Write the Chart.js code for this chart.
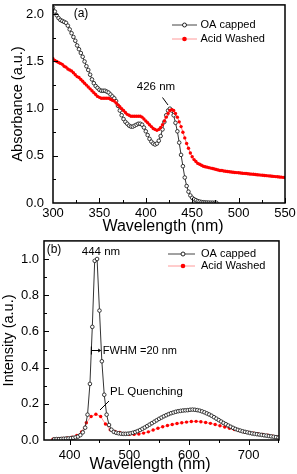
<!DOCTYPE html>
<html><head><meta charset="utf-8">
<script src="https://cdn.jsdelivr.net/npm/chart.js@4.4.1/dist/chart.umd.min.js"></script>
<style>
html,body{margin:0;padding:0;background:#fff;width:297px;height:474px;overflow:hidden}
#wa{position:absolute;left:0;top:0;width:297px;height:236px}
#wb{position:absolute;left:0;top:236px;width:297px;height:238px}
canvas{display:block}
</style></head><body>
<div id="wa"><canvas id="ca" width="297" height="236"></canvas></div>
<div id="wb"><canvas id="cb" width="297" height="238"></canvas></div>
<script>
// ---------- (a) Absorbance ----------
const absWavelength = [
300,302,304,306,308,310,312,314,316,318,
320,322,324,326,328,330,332,334,336,338,
340,342,344,346,348,350,352,354,356,358,
360,362,364,366,368,370,372,374,376,378,
380,382,384,386,388,390,392,394,396,398,
400,402,404,406,408,410,412,414,416,418,
420,422,424,426,428,430,432,434,436,438,
440,442,444,446,448,450,452,454,456,458,
460,462,464,466,468,470,472,474,476,478,
480,482,484,486,488,490,492,494,496,498,
500,502,504,506,508,510,512,514,516,518,
520,522,524,526,528,530,532,534,536,538,
540,542,544,546,548,550];
const absOA = [
2.07,2.03,1.99,1.96,1.94,1.93,1.92,1.91,1.88,1.84,
1.80,1.76,1.72,1.67,1.63,1.59,1.55,1.50,1.45,1.41,
1.36,1.31,1.27,1.24,1.22,1.20,1.19,1.19,1.19,1.18,
1.17,1.15,1.13,1.11,1.08,1.03,0.98,0.93,0.89,0.86,
0.84,0.82,0.81,0.81,0.82,0.83,0.84,0.84,0.83,0.80,
0.76,0.72,0.68,0.65,0.63,0.62,0.63,0.66,0.71,0.78,
0.86,0.93,0.98,1.00,0.98,0.93,0.85,0.76,0.64,0.51,
0.39,0.27,0.18,0.12,0.08,0.055,0.04,0.03,0.02,0.015,
0.01,0.008,0.006,0.005,0.004,0.003,0.003,0.002,0.002];
const absAcid = [
1.53,1.51,1.50,1.49,1.48,1.47,1.45,1.44,1.42,1.41,
1.40,1.38,1.36,1.34,1.33,1.31,1.29,1.27,1.25,1.23,
1.21,1.19,1.17,1.15,1.13,1.12,1.11,1.11,1.11,1.11,
1.11,1.10,1.09,1.08,1.06,1.04,1.02,1.00,0.98,0.96,
0.94,0.93,0.92,0.92,0.92,0.92,0.92,0.92,0.91,0.89,
0.87,0.85,0.83,0.81,0.79,0.78,0.77,0.78,0.80,0.83,
0.87,0.91,0.95,0.98,0.99,0.98,0.95,0.91,0.86,0.81,
0.75,0.69,0.63,0.58,0.53,0.49,0.46,0.44,0.42,0.41,
0.40,0.39,0.385,0.38,0.375,0.37,0.365,0.36,0.355,0.35,
0.345,0.345,0.34,0.337,0.334,0.331,0.328,0.326,0.324,0.322,
0.32,0.318,0.316,0.314,0.312,0.31,0.308,0.306,0.304,0.302,
0.30,0.298,0.296,0.294,0.292,0.29,0.288,0.286,0.284,0.282,
0.28,0.278,0.276,0.274,0.272,0.27];
const absXTicks = [300, 350, 400, 450, 500, 550];
const absYTicks = [0, 0.5, 1.0, 1.5, 2.0];

// ---------- (b) PL ----------
const plWavelengthOA = [
374,378,382,386,390,394,398,402,406,410,
414,418,422,426,430,434,438,442,446,450,
454,458,462,466,470,474,478,482,486,490,
494,498,502,506,510,514,518,522,526,530,
534,538,542,546,550,554,558,562,566,570,
574,578,582,586,590,594,598,602,606,610,
614,618,622,626,630,634,638,642,646,650,
654,658,662,666,670,674,678,682,686,690,
694,698,702,706,710,714,718,722,726,730,
734,738,742,746,750];
const plOA = [
0.004,0.005,0.005,0.006,0.007,0.008,0.009,0.010,0.012,0.015,
0.019,0.027,0.042,0.068,0.14,0.31,0.625,0.99,1.0,0.715,
0.435,0.25,0.14,0.083,0.057,0.045,0.04,0.037,0.035,0.034,
0.034,0.035,0.037,0.040,0.044,0.049,0.055,0.062,0.069,0.077,
0.085,0.093,0.101,0.109,0.117,0.124,0.131,0.137,0.143,0.148,
0.152,0.156,0.159,0.161,0.163,0.164,0.165,0.167,0.168,0.167,
0.165,0.162,0.158,0.153,0.147,0.141,0.134,0.126,0.118,0.110,
0.102,0.094,0.087,0.080,0.073,0.067,0.061,0.056,0.052,0.048,
0.045,0.042,0.039,0.036,0.034,0.032,0.030,0.028,0.026,0.024,
0.022,0.020,0.018,0.016,0.014];
const plWavelengthAcid = [
372,380,388,396,404,412,420,428,436,444,
452,460,468,476,484,492,500,508,516,524,
532,540,548,556,564,572,580,588,596,604,
612,620,628,636,644,652,660,668,676,684,
692,700,708,716,724,732,740,748];
const plAcid = [
0.005,0.007,0.009,0.012,0.016,0.025,0.045,0.095,0.13,0.142,
0.13,0.088,0.056,0.047,0.042,0.036,0.032,0.031,0.033,0.038,
0.045,0.055,0.065,0.073,0.080,0.086,0.091,0.095,0.099,0.102,
0.103,0.101,0.097,0.092,0.086,0.079,0.072,0.065,0.058,0.052,
0.046,0.042,0.038,0.034,0.030,0.026,0.021,0.016];
const plXTicks = [400, 500, 600, 700];
const plYTicks = [0, 0.2, 0.4, 0.6, 0.8, 1.0];

const seriesNames = ['OA capped', 'Acid Washed'];
const xTitle = 'Wavelength (nm)';

const FONT = "'Liberation Sans', Arial, Helvetica, sans-serif";
const zip = (xs, ys) => ys.map((v, i) => ({x: xs[i], y: v}));

function decor(d) {
  return {
    id: 'decor',
    afterDraw(chart) {
      const {ctx, chartArea: a, scales: {x, y}} = chart;
      ctx.save();
      ctx.strokeStyle = '#000';
      ctx.lineWidth = 1.5;
      ctx.strokeRect(a.left, a.top, a.right - a.left, a.bottom - a.top);
      ctx.lineWidth = 1;
      ctx.beginPath();
      const isMaj = (v, m) => Math.abs(v / m - Math.round(v / m)) < 1e-6;
      for (let v = d.xMinorStart; v <= x.max + 1e-9; v += d.xMinor) {
        const px = Math.round(x.getPixelForValue(v)) + 0.5;
        const len = isMaj(v, d.xMajor) ? d.majLen : d.minLen;
        ctx.moveTo(px, a.bottom);
        ctx.lineTo(px, d.xOut ? a.bottom + len : a.bottom - len);
      }
      for (let v = y.min + d.yMinor; v < y.max - 1e-9; v += d.yMinor) {
        const py = Math.round(y.getPixelForValue(v)) + 0.5;
        const len = isMaj(v, d.yMajor) ? d.majLen : d.minLen;
        ctx.moveTo(a.left, py);
        ctx.lineTo(a.left + len, py);
      }
      ctx.stroke();
      // x-axis title
      ctx.fillStyle = '#000';
      ctx.font = '16px ' + FONT;
      ctx.textAlign = 'center';
      ctx.textBaseline = 'middle';
      ctx.fillText(xTitle, d.xTitleX, d.xTitleY);
      // legend
      ctx.font = '11px ' + FONT;
      ctx.textAlign = 'left';
      const L = d.legend;
      ctx.strokeStyle = '#444'; ctx.lineWidth = 1;
      ctx.beginPath(); ctx.moveTo(L.x0, L.y1); ctx.lineTo(L.x1, L.y1); ctx.stroke();
      ctx.fillStyle = '#fff'; ctx.strokeStyle = '#222';
      ctx.beginPath(); ctx.arc(L.xm, L.y1, 2, 0, Math.PI * 2); ctx.fill(); ctx.stroke();
      ctx.fillStyle = '#000'; ctx.fillText(seriesNames[0], L.xt, L.y1);
      ctx.strokeStyle = '#ff9a9a';
      ctx.beginPath(); ctx.moveTo(L.x0, L.y2); ctx.lineTo(L.x1, L.y2); ctx.stroke();
      ctx.fillStyle = '#ff0000';
      ctx.beginPath(); ctx.arc(L.xm, L.y2, 2.3, 0, Math.PI * 2); ctx.fill();
      ctx.fillStyle = '#000'; ctx.fillText(seriesNames[1], L.xt, L.y2);
      d.annotate(ctx, x, y);
      ctx.restore();
    }
  };
}

function baseOptions(c) {
  return {
    responsive: false, animation: false, devicePixelRatio: 1,
    layout: {padding: {top: c.padTop, right: c.padRight, left: 0, bottom: 0}},
    plugins: {legend: {display: false}, tooltip: {enabled: false}},
    elements: {line: {tension: 0}},
    scales: {
      x: {
        type: 'linear', min: c.xMin, max: c.xMax,
        afterBuildTicks(s) { s.ticks = c.xTicks.map(v => ({value: v})); },
        ticks: {autoSkip: false, maxRotation: 0,
                font: {family: FONT, size: 13}, color: '#000', padding: c.xTickPad},
        grid: {display: false, drawTicks: false}, border: {display: false},
        title: {display: false},
        afterFit(s) { s.height = c.xAxisH; s.paddingLeft = 0; s.paddingRight = 0; }
      },
      y: {
        type: 'linear', min: c.yMin, max: c.yMax,
        afterBuildTicks(s) { s.ticks = c.yTicks.map(v => ({value: v})); },
        ticks: {autoSkip: false,
                font: {family: FONT, size: 13}, color: '#000', padding: c.yTickPad,
                callback: v => Number(v).toFixed(1)},
        grid: {display: false, drawTicks: false}, border: {display: false},
        title: {display: true, text: c.yTitle, font: {family: FONT, size: 14.5},
                color: '#000', padding: {top: c.yTitlePad, bottom: 0}},
        afterFit(s) { s.width = c.yAxisW; s.paddingTop = 0; s.paddingBottom = 0; }
      }
    }
  };
}

new Chart(document.getElementById('ca'), {
  type: 'line',
  data: {datasets: [
    {label: seriesNames[0], data: zip(absWavelength, absOA), order: 2,
     borderColor: '#333', borderWidth: 1, pointRadius: 1.8, pointBorderWidth: 0.9,
     pointBorderColor: '#222', pointBackgroundColor: '#fff', fill: false},
    {label: seriesNames[1], data: zip(absWavelength, absAcid), order: 1,
     borderColor: '#ff7070', borderWidth: 1, pointRadius: 1.7, pointBorderWidth: 0,
     pointBackgroundColor: '#ff0000', pointBorderColor: '#ff0000', fill: false}
  ]},
  options: baseOptions({padTop: 3, padRight: 12, xMin: 300, xMax: 550, xTicks: absXTicks, xTickPad: 3,
    xAxisH: 33, yMin: 0, yMax: 2.1, yTicks: absYTicks, yTickPad: 9, yAxisW: 53,
    yTitle: 'Absorbance (a.u.)', yTitlePad: 9.5}),
  plugins: [decor({
    xMinorStart: 325, xMinor: 25, xMajor: 50, xOut: false, yMinor: 0.25, yMajor: 0.5,
    majLen: 5, minLen: 3, xTitleX: 163, xTitleY: 227,
    legend: {x0: 172, x1: 197, xm: 184.5, xt: 200.5, y1: 25, y2: 39},
    annotate(ctx, x, y) {
      ctx.fillStyle = '#000';
      ctx.font = '12px ' + FONT; ctx.textAlign = 'center';
      ctx.fillText('(a)', 81, 14);
      ctx.font = '11.5px ' + FONT;
      ctx.fillText('426 nm', 156, 86.5);
      ctx.strokeStyle = '#000'; ctx.lineWidth = 1;
      ctx.beginPath(); ctx.moveTo(162.5, 97.5); ctx.lineTo(168, 105); ctx.stroke();
    }
  })]
});

new Chart(document.getElementById('cb'), {
  type: 'line',
  data: {datasets: [
    {label: seriesNames[0], data: zip(plWavelengthOA, plOA), order: 1,
     borderColor: '#333', borderWidth: 1, pointRadius: 1.8, pointBorderWidth: 0.9,
     pointBorderColor: '#222', pointBackgroundColor: '#fff', fill: false},
    {label: seriesNames[1], data: zip(plWavelengthAcid, plAcid), order: 2,
     borderColor: '#ff9a9a', borderWidth: 1, pointRadius: 1.7, pointBorderWidth: 0,
     pointBackgroundColor: '#ff0000', pointBorderColor: '#ff0000', fill: false}
  ]},
  options: baseOptions({padTop: 3, padRight: 18, xMin: 357, xMax: 751, xTicks: plXTicks, xTickPad: 8,
    xAxisH: 34, yMin: 0, yMax: 1.1, yTicks: plYTicks, yTickPad: 5, yAxisW: 44,
    yTitle: 'Intensity (a.u.)', yTitlePad: 0.5}),
  plugins: [decor({
    xMinorStart: 400, xMinor: 50, xMajor: 100, xOut: true, yMinor: 0.1, yMajor: 0.2,
    majLen: 5, minLen: 3, xTitleX: 150, xTitleY: 229,
    legend: {x0: 168, x1: 195, xm: 183, xt: 201, y1: 18, y2: 30},
    annotate(ctx, x, y) {
      ctx.fillStyle = '#000';
      ctx.font = '12px ' + FONT; ctx.textAlign = 'center';
      ctx.fillText('(b)', 54, 14);
      ctx.font = '11.5px ' + FONT;
      ctx.fillText('444 nm', 101, 16);
      const xl = x.getPixelForValue(436.4), xr = x.getPixelForValue(453), yh = Math.round(y.getPixelForValue(0.5)) + 0.5;
      ctx.strokeStyle = '#000'; ctx.lineWidth = 1;
      ctx.beginPath();
      ctx.moveTo(xl, yh - 4); ctx.lineTo(xl, yh + 4);
      ctx.moveTo(xl, yh); ctx.lineTo(xr - 2, yh);
      ctx.stroke();
      ctx.beginPath(); ctx.moveTo(xr, yh); ctx.lineTo(xr - 3, yh - 2); ctx.lineTo(xr - 3, yh + 2); ctx.closePath(); ctx.fill();
      ctx.textAlign = 'left';
      ctx.font = '11px ' + FONT;
      ctx.fillText('FWHM =20 nm', xr + 1.5, yh);
      ctx.font = '11.5px ' + FONT;
      ctx.fillText('PL Quenching', 110, 156);
      ctx.beginPath(); ctx.moveTo(100, 174); ctx.lineTo(109, 165); ctx.stroke();
    }
  })]
});
</script>
</body></html>
